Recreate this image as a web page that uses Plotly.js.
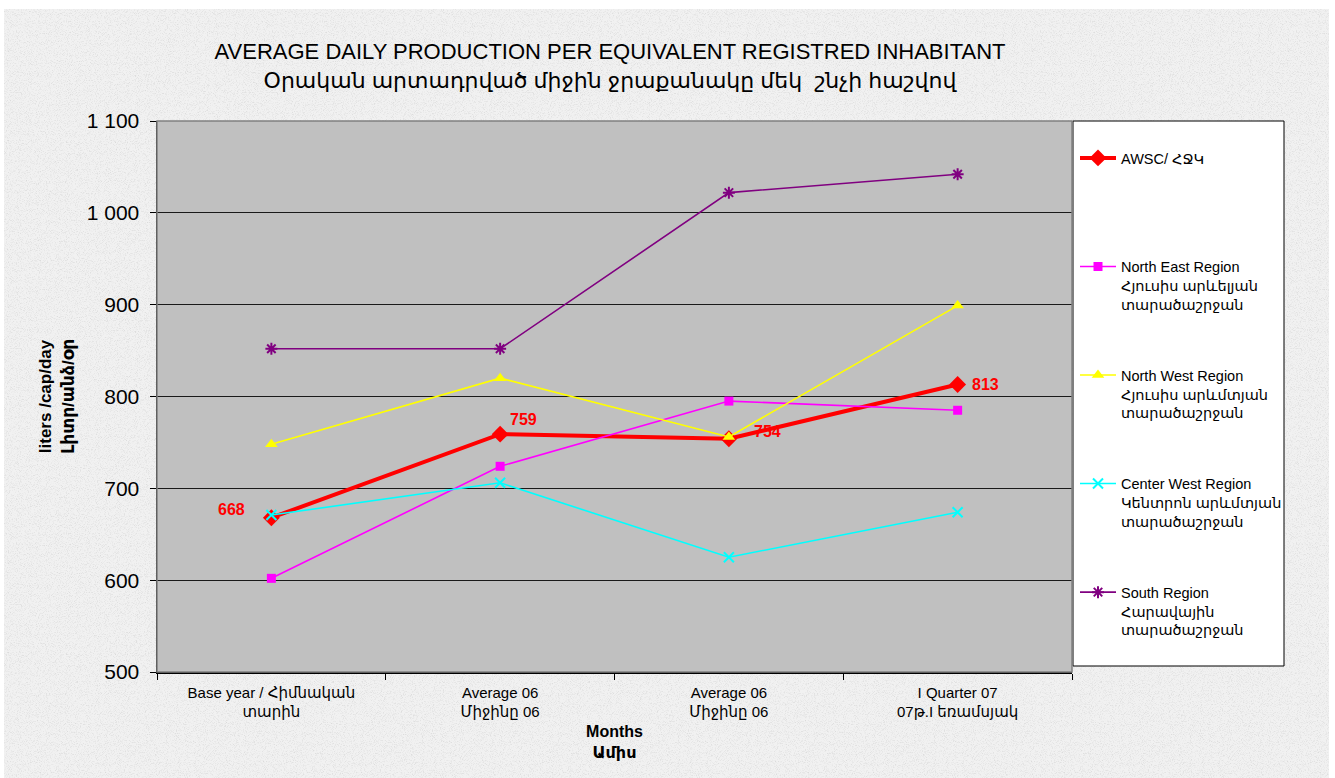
<!DOCTYPE html>
<html>
<head>
<meta charset="utf-8">
<script src="https://cdn.plot.ly/plotly-3.0.1.min.js"></script>
<style>
html, body { margin:0; padding:0; background:#ffffff; }
body { width:1335px; height:778px; overflow:hidden; position:relative; }
#bg {
  position:absolute; left:4px; top:9px; width:1325px; height:769px;
  background-color:#ececec;
  background-image:url("data:image/svg+xml;utf8,<svg xmlns='http://www.w3.org/2000/svg' width='256' height='256'><filter id='n'><feTurbulence type='fractalNoise' baseFrequency='1.1' numOctaves='2' stitchTiles='stitch'/><feColorMatrix type='matrix' values='0 0 0 0 0.70  0 0 0 0 0.70  0 0 0 0 0.70  2.4 0 0 0 -1.15'/></filter><rect width='100%' height='100%' fill='%23f1f1f1'/><rect width='100%' height='100%' filter='url(%23n)'/></svg>");
}
#chart { position:absolute; left:0; top:0; width:1335px; height:778px; }
</style>
</head>
<body>
<div id="bg"></div>
<div id="chart"></div>
<script>
// ---- data ----
const categories = [
  "Base year / Հիմնական<br>տարին",
  "Average 06<br>Միջինը 06",
  "Average 06<br>Միջինը 06",
  "I Quarter 07<br>07թ.I եռամսյակ"
];
const awsc       = [668, 759, 754, 813];
const northEast  = [602, 724, 795, 785];
const northWest  = [748, 820, 756, 899];
const centerWest = [671, 706, 625, 674];
const south      = [852, 852, 1022, 1042];

const seriesNames = [
  "AWSC/ ՀՋԿ<br>\u00a0<br>\u00a0",
  "North East Region<br>Հյուսիս արևելյան<br>տարածաշրջան",
  "North West Region<br>Հյուսիս արևմտյան<br>տարածաշրջան",
  "Center West Region<br>Կենտրոն արևմտյան<br>տարածաշրջան",
  "South Region<br>Հարավային<br>տարածաշրջան"
];
const awscLabels = awsc.map(String);
const yTickVals = [500, 600, 700, 800, 900, 1000, 1100];

const xIdx = categories.map((_, i) => i);
const FONT = "Liberation Sans, Arial, DejaVu Sans, sans-serif";

const traces = [
  {
    x: xIdx, y: awsc, name: seriesNames[0], legendgroup: "g0",
    mode: "lines+markers",
    line: {color: "#FF0000", width: 4},
    marker: {symbol: "diamond", size: 13, color: "#FF0000"}
  },
  {
    x: xIdx, y: northEast, name: seriesNames[1], legendgroup: "g1",
    mode: "lines+markers",
    line: {color: "#FF00FF", width: 1.6},
    marker: {symbol: "square", size: 9, color: "#FF00FF"}
  },
  {
    x: xIdx, y: northWest, name: seriesNames[2], legendgroup: "g2",
    mode: "lines+markers",
    line: {color: "#FFFF00", width: 1.6},
    marker: {symbol: "triangle-up", size: 11, color: "#FFFF00"}
  },
  {
    x: xIdx, y: centerWest, name: seriesNames[3], legendgroup: "g3",
    mode: "lines+markers",
    line: {color: "#00FFFF", width: 1.6},
    marker: {symbol: "x-thin-open", size: 10, color: "#00FFFF", line: {color: "#00FFFF", width: 2}}
  },
  {
    x: xIdx, y: south, name: seriesNames[4], legendgroup: "g4",
    mode: "lines+markers",
    line: {color: "#800080", width: 1.6},
    marker: {symbol: "asterisk-open", size: 10, color: "#800080", line: {color: "#800080", width: 2}}
  }
];

// data labels for AWSC series (position offsets are styling only)
const labelShift = [[-40, 8], [23, 15], [39, 7], [28, 0]];
const annotations = awsc.map((v, i) => ({
  x: xIdx[i], y: v, xref: "x", yref: "y",
  text: awscLabels[i], showarrow: false,
  xshift: labelShift[i][0], yshift: labelShift[i][1],
  font: {family: FONT, size: 16, color: "#FF0000", weight: "bold"}
}));

// plot-area pixel geometry helpers (for styling positions only)
const L = 157, R = 1072, T = 121, B = 672, W = 1335, H = 778;
const px2x = p => (p - L) / (R - L);
const px2y = p => (B - p) / (B - T);

const layout = {
  width: W, height: H,
  paper_bgcolor: "rgba(0,0,0,0)",
  plot_bgcolor: "#C0C0C0",
  margin: {l: L, r: W - R, t: T, b: H - B, pad: 0},
  separators: ". ",
  font: {family: FONT, color: "#000"},
  title: {
    text: "AVERAGE DAILY PRODUCTION PER EQUIVALENT REGISTRED INHABITANT<br>Օրական արտադրված միջին ջրաքանակը մեկ  շնչի հաշվով",
    font: {family: FONT, size: 22, color: "#000"},
    x: px2x(610), xref: "paper", xanchor: "center",
    y: 1 - 59 / H, yref: "container", yanchor: "top"
  },
  showlegend: true,
  legend: {
    x: px2x(1075), xanchor: "left",
    y: px2y(142), yanchor: "top",
    bgcolor: "rgba(0,0,0,0)", borderwidth: 0,
    font: {family: FONT, size: 14.5, color: "#000"},
    tracegroupgap: 49,
    valign: "top",
    traceorder: "grouped",
    itemwidth: 36
  },
  annotations: annotations,
  xaxis: {
    range: [-0.5, 3.5],
    tickmode: "array", tickvals: xIdx, ticktext: categories,
    ticks: "", showgrid: false, zeroline: false,
    showline: true, linecolor: "#000", linewidth: 1.5,
    tickfont: {family: FONT, size: 15, color: "#000"},
    ticklabelstandoff: 6,
    minor: {tickmode: "array", tickvals: [-0.5, 0.5, 1.5, 2.5, 3.5], ticks: "outside", ticklen: 6, tickcolor: "#000", tickwidth: 1, showgrid: false},
    title: {text: "Months<br>Ամիս", font: {family: FONT, size: 16, color: "#000", weight: "bold"}, standoff: 7},
    automargin: false, fixedrange: true
  },
  yaxis: {
    range: [500, 1100],
    tickmode: "array", tickvals: yTickVals, tickformat: ",d",
    ticks: "outside", ticklen: 6, tickcolor: "#000",
    ticklabelstandoff: 6,
    showgrid: true, gridcolor: "#1a1a1a", gridwidth: 1,
    zeroline: false,
    showline: true, linecolor: "#000", linewidth: 1.5,
    tickfont: {family: FONT, size: 21, color: "#000"},
    title: {text: "liters /cap/day<br>Լիտր/անձ/օր", font: {family: FONT, size: 17, color: "#000", weight: "bold"}, standoff: 8},
    automargin: false, fixedrange: true
  },
  shapes: [
    {type: "rect", xref: "paper", yref: "paper", x0: 0, x1: 1, y0: 0, y1: 1,
     line: {color: "#808080", width: 1.5}, fillcolor: "rgba(0,0,0,0)", layer: "above"},
    {type: "rect", xref: "paper", yref: "paper", x0: px2x(1073), x1: px2x(1284), y0: px2y(666), y1: px2y(121),
     line: {color: "#000", width: 1}, fillcolor: "#FFFFFF", layer: "below"}
  ]
};

Plotly.newPlot("chart", traces, layout, {displayModeBar: false, staticPlot: true});
</script>
</body>
</html>
